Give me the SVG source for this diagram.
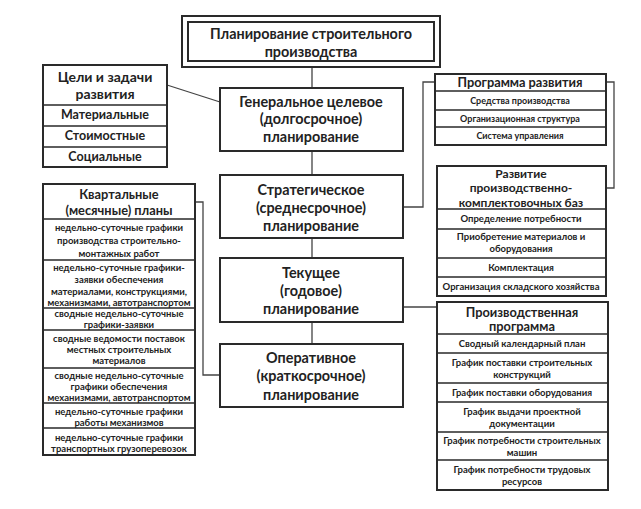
<svg xmlns="http://www.w3.org/2000/svg" width="641" height="509" viewBox="0 0 641 509">
<style>
text{font-family:Lato,"Liberation Sans","DejaVu Sans",sans-serif;font-weight:700;fill:#222;text-anchor:middle;dominant-baseline:central}
.box{fill:#fff;stroke:#2a2a2a;stroke-width:2}
.div{stroke:#2a2a2a;stroke-width:1.6}
.conn{fill:none;stroke:#444;stroke-width:1.3}
.h{font-size:14.4px}
.m{font-size:14px}
.m2{font-size:12.8px}
.m3{font-size:12px}
.r{font-size:12.5px}
.s{font-size:9.5px}
.s2{font-size:9px}
</style>
<rect width="641" height="509" fill="#fff"/>
<g id="connectors">
<path class="conn" d="M312 67V88M312 151V175M312 238V258M312 322V344"/>
<path class="conn" d="M167 85L220 102"/>
<path class="conn" d="M435 82H423V207H403"/>
<path class="conn" d="M606 82H614V188H606"/>
<path class="conn" d="M403 307H437"/>
<path class="conn" d="M195 202H203V375H220"/>
</g>
<g id="top">
<rect class="box" x="182" y="16" width="258" height="51"/>
<rect class="box" x="188" y="22" width="246" height="39"/>
<text class="h" x="311" y="33.5">Планирование строительного</text>
<text class="h" x="311" y="51">производства</text>
</g>
<g id="goals">
<rect class="box" x="43" y="65" width="124" height="102"/>
<path class="div" d="M43 105H167M43 126H167M43 147H167"/>
<text class="m" x="105" y="76.5">Цели и задачи</text>
<text class="m" x="105" y="93">развития</text>
<text class="r" x="105" y="114.5">Материальные</text>
<text class="r" x="105" y="135.5">Стоимостные</text>
<text class="r" x="105" y="156">Социальные</text>
</g>
<g id="general">
<rect class="box" x="220" y="88" width="183" height="63"/>
<text class="h" x="311" y="101">Генеральное целевое</text>
<text class="h" x="311" y="118.5">(долгосрочное)</text>
<text class="h" x="311" y="136">планирование</text>
</g>
<g id="strategic">
<rect class="box" x="220" y="175" width="183" height="63"/>
<text class="h" x="311" y="189">Стратегическое</text>
<text class="h" x="311" y="207.5">(среднесрочное)</text>
<text class="h" x="311" y="225.5">планирование</text>
</g>
<g id="current">
<rect class="box" x="220" y="258" width="183" height="64"/>
<text class="h" x="311" y="272">Текущее</text>
<text class="h" x="311" y="290.5">(годовое)</text>
<text class="h" x="311" y="308.5">планирование</text>
</g>
<g id="operative">
<rect class="box" x="220" y="344" width="183" height="63"/>
<text class="h" x="311" y="357">Оперативное</text>
<text class="h" x="311" y="375.5">(краткосрочное)</text>
<text class="h" x="311" y="394">планирование</text>
</g>
<g id="devprogram">
<rect class="box" x="435" y="74" width="171" height="71"/>
<path class="div" d="M435 91H606M435 110H606M435 127H606"/>
<text class="m2" x="520" y="82">Программа развития</text>
<text class="s2" x="520" y="100">Средства производства</text>
<text class="s2" x="520" y="118">Организационная структура</text>
<text class="s2" x="520" y="135.5">Система управления</text>
</g>
<g id="bases">
<rect class="box" x="437" y="166" width="169" height="130"/>
<path class="div" d="M437 209H606M437 229H606M437 258H606M437 277H606"/>
<text class="m3" x="521" y="173">Развитие</text>
<text class="m3" x="521" y="187.5">производственно-</text>
<text class="m3" x="521" y="202">комплектовочных баз</text>
<text class="s" x="521" y="218.5">Определение потребности</text>
<text class="s" x="521" y="236.5">Приобретение материалов и</text>
<text class="s" x="521" y="248.5">оборудования</text>
<text class="s" x="521" y="267">Комплектация</text>
<text class="s" x="521" y="286">Организация складского хозяйства</text>
</g>
<g id="quarterly">
<rect class="box" x="43" y="184" width="152" height="271"/>
<path class="div" d="M43 219H195M43 260H195M43 308H195M43 330H195M43 368H195M43 403H195M43 428H195"/>
<text class="m2" x="119" y="194">Квартальные</text>
<text class="m2" x="119" y="210">(месячные) планы</text>
<text class="s" x="119" y="227">недельно-суточные графики</text>
<text class="s" x="119" y="240">производства строительно-</text>
<text class="s" x="119" y="253">монтажных работ</text>
<text class="s" x="119" y="267">недельно-суточные графики-</text>
<text class="s" x="119" y="279">заявки обеспечения</text>
<text class="s" x="119" y="291">материалами, конструкциями,</text>
<text class="s" x="119" y="302">механизмами, автотранспортом</text>
<text class="s" x="119" y="313.5">сводные недельно-суточные</text>
<text class="s" x="119" y="324">графики-заявки</text>
<text class="s" x="119" y="338">сводные ведомости поставок</text>
<text class="s" x="119" y="349">местных строительных</text>
<text class="s" x="119" y="360">материалов</text>
<text class="s" x="119" y="375">сводные недельно-суточные</text>
<text class="s" x="119" y="386">графики обеспечения</text>
<text class="s" x="119" y="397">механизмами, автотранспортом</text>
<text class="s" x="119" y="411">недельно-суточные графики</text>
<text class="s" x="119" y="422">работы механизмов</text>
<text class="s" x="119" y="437">недельно-суточные графики</text>
<text class="s" x="119" y="448">транспортных грузоперевозок</text>
</g>
<g id="production">
<rect class="box" x="437" y="302" width="171" height="188"/>
<path class="div" d="M437 334H608M437 353H608M437 383H608M437 402H608M437 432H608M437 460H608"/>
<text class="m2" x="522" y="311.5">Производственная</text>
<text class="m2" x="522" y="326">программа</text>
<text class="s" x="522" y="343">Сводный календарный план</text>
<text class="s" x="522" y="362">График поставки строительных</text>
<text class="s" x="522" y="374">конструкций</text>
<text class="s" x="522" y="392">График поставки оборудования</text>
<text class="s" x="522" y="411">График выдачи проектной</text>
<text class="s" x="522" y="423">документации</text>
<text class="s" x="522" y="440">График потребности строительных</text>
<text class="s" x="522" y="452">машин</text>
<text class="s" x="522" y="469">График потребности трудовых</text>
<text class="s" x="522" y="481">ресурсов</text>
</g>
</svg>
